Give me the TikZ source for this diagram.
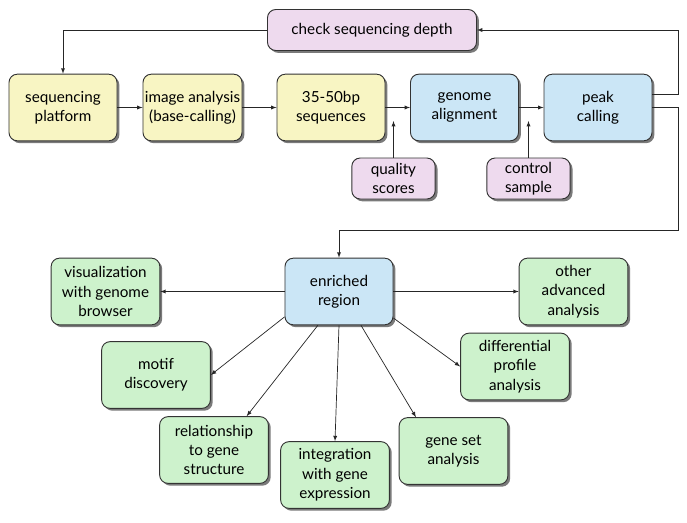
\documentclass[tikz,border=0pt]{standalone}
\usepackage{fontspec}
\setmainfont{Lato}
\usepackage{tikz}
\usetikzlibrary{positioning, shadows}

\definecolor{seqyellow}{HTML}{F8F5C3}
\definecolor{qclilac}{HTML}{EEDAEE}
\definecolor{alignblue}{HTML}{CBE6F6}
\definecolor{downgreen}{HTML}{CDF2CC}

\begin{document}
\begin{tikzpicture}
    [x=0.03cm, y=-0.03cm,
    every node/.style={font=\fontsize{13}{16.5}\selectfont},
    box/.style={rectangle, draw=black!80, line width=0.8pt, rounded corners=2.5mm, align=center,
    inner sep=1pt, drop shadow={shadow xshift=2pt, shadow yshift=-2pt, fill=black!65, opacity=0.8}},
    rawstep/.style={box, fill=seqyellow, minimum width=3.24cm, minimum height=2cm},
    qcbox/.style={box, fill=qclilac, minimum width=2.5cm, minimum height=1.23cm},
    mapbox/.style={box, fill=alignblue, minimum width=3.24cm, minimum height=2cm},
    usebox/.style={box, fill=downgreen, minimum width=3.26cm, minimum height=2cm},
    arrow/.style={->, >=latex, line width=0.6pt, black!85}]
    \useasboundingbox (0,0) rectangle (687,522);
    \node [qcbox, minimum width=6.27cm] (check) at (372,30) {check sequencing depth};
    \node [rawstep] (platform) at (63,107.5) {sequencing\\platform};
    \node [rawstep, minimum width=2.97cm] (image) at (192.5,107.5) {image analysis\\(base-calling)};
    \node [rawstep] (reads) at (331,107.5) {35-50bp\\sequences};
    \node [mapbox] (genome) at (464.5,107.5) {genome\\alignment};
    \node [mapbox] (peak) at (598,107.5) {peak\\calling};
    \node [qcbox] (quality) at (393.5,178.5) {quality\\scores};
    \node [qcbox] (control) at (528.5,178.5) {control\\sample};
    \coordinate (qualitytip) at (393.5,121);
    \coordinate (controltip) at (528.5,121);

    \node [mapbox] (enriched) at (339,291.5) {enriched\\region};
    \node [usebox] (browser) at (105.5,291.5) {visualization\\with genome\\browser};
    \node [usebox] (advanced) at (573.5,291.5) {other\\advanced\\analysis};
    \node [usebox] (motif) at (156,375) {motif\\discovery};
    \node [usebox] (differential) at (515,366.5) {differential\\profile\\analysis};
    \node [usebox] (structure) at (214,450) {relationship\\to gene\\structure};
    \node [usebox] (expression) at (335,475) {integration\\with gene\\expression};
    \node [usebox] (geneset) at (453.5,451) {gene set\\analysis};

    \draw [arrow] (platform) -- (image);
    \draw [arrow] (image) -- (reads);
    \draw [arrow] (reads) -- (genome);
    \draw [arrow] (genome) -- (peak);
    \draw [arrow] (quality) -- (qualitytip);
    \draw [arrow] (control) -- (controltip);
    \draw [arrow] ([yshift=0.39cm]peak.east) -- ++(26,0) |- (check.east);
    \draw [arrow] (check.west) -| (platform.north);
    \draw [arrow] (peak.east) -- ++(26,0) -- ++(0,123) -| (enriched.north);

    \draw [arrow] (enriched.west) -- (browser.east);
    \draw [arrow] (enriched.east) -- (advanced.west);
    \draw [arrow] (enriched.205) -- (motif.east);
    \draw [arrow] (enriched.238) -- (structure.46);
    \draw [arrow] (enriched.south) -- (expression.north);
    \draw [arrow] (enriched.303) -- (geneset.138);
    \draw [arrow] (enriched.334) -- (differential.west);
\end{tikzpicture}
\end{document}
